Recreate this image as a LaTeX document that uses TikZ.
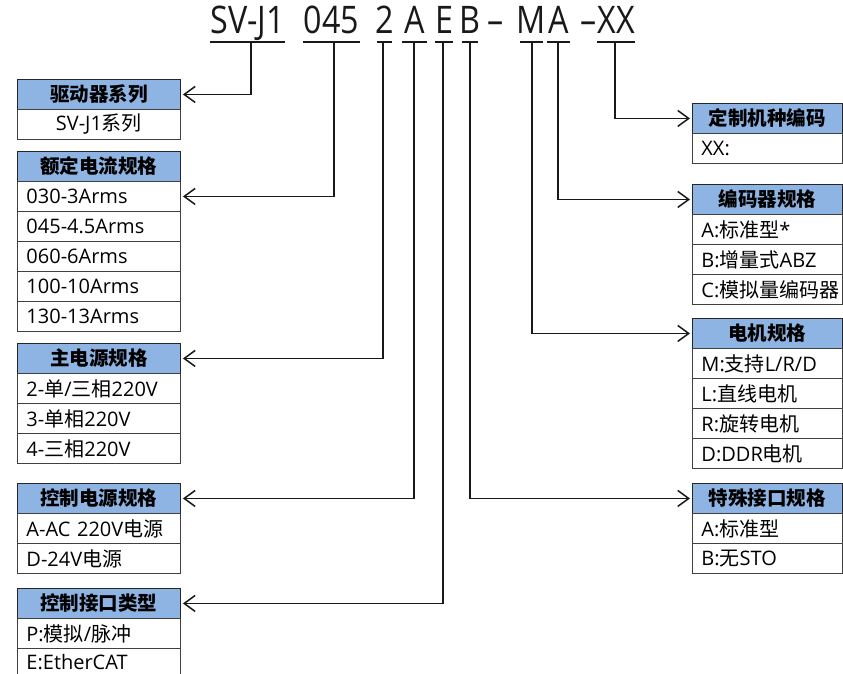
\documentclass[tikz,border=0pt]{standalone}
\usepackage{fontspec}
\setmainfont{Noto Sans CJK SC}
\newfontfamily\lat{Open Sans}
\usetikzlibrary{arrows.meta}
\definecolor{hdrblue}{RGB}{142,180,227}
\definecolor{linec}{RGB}{25,25,25}
\begin{document}
\begin{tikzpicture}[x=1pt,y=-1pt,
  lhdr/.style={draw=black!85, fill=hdrblue, line width=0.9pt, minimum height=30pt, inner xsep=0pt, inner ysep=0pt, text width=163pt, align=center, font=\bfseries\fontsize{19.5}{21}\selectfont, anchor=north west},
  lrow/.style={draw=black!75, fill=white, line width=0.9pt, minimum height=30pt, inner xsep=9pt, inner ysep=0pt, text width=145pt, align=left, font=\fontsize{20}{22}\selectfont, anchor=north west},
  rhdr/.style={lhdr, text width=150pt},
  rrow/.style={lrow, text width=132pt},
  code/.style={font=\lat\fontsize{38}{42}\selectfont, anchor=base, inner sep=0pt, text=black!90},
  uline/.style={line width=1.8pt, draw=linec},
  conn/.style={line width=1.5pt, draw=linec, shorten >=2pt, -{Straight Barb[length=11pt,width=16pt,line width=1.5pt]}}
]
\useasboundingbox (0,0) rectangle (843,674);

% ---- code line ----
\node[code] (c1) at (247.5,34) {\scalebox{0.85}[1]{SV-J1}};
\node[code] (c2) at (331.5,34) {\scalebox{0.85}[1]{045}};
\node[code] (c3) at (384.5,34) {\scalebox{0.85}[1]{2}};
\node[code] (c4) at (414.5,34) {\scalebox{0.85}[1]{A}};
\node[code] (c5) at (444,34) {\scalebox{0.85}[1]{E}};
\node[code] (c6) at (470,34) {\scalebox{0.85}[1]{B}};
\node[code] (d1) at (496,34) {\scalebox{0.85}[1]{–}};
\node[code] (c7) at (531.5,34) {\scalebox{0.85}[1]{M}};
\node[code] (c8) at (558.5,34) {\scalebox{0.85}[1]{A}};
\node[code] (d2) at (589,34) {\scalebox{0.85}[1]{–}};
\node[code] (c9) at (616,34) {\scalebox{0.85}[1]{XX}};

\draw[uline] (210,42) -- (285,42);
\draw[uline] (303,42) -- (360,42);
\draw[uline] (377,42) -- (392,42);
\draw[uline] (402,42) -- (427,42);
\draw[uline] (435,42) -- (453,42);
\draw[uline] (462,42) -- (478,42);
\draw[uline] (520,42) -- (543,42);
\draw[uline] (547,42) -- (570,42);
\draw[uline] (597,42) -- (635,42);

\coordinate (u1) at (251,42);
\coordinate (u2) at (334,42);
\coordinate (u3) at (383,42);
\coordinate (u4) at (414,42);
\coordinate (u5) at (443,42);
\coordinate (u6) at (470,42);
\coordinate (u7) at (532,42);
\coordinate (u8) at (558,42);
\coordinate (u9) at (615,42);

% ---- left boxes ----
\node[lhdr] (b1h) at (17,79) {驱动器系列};
\node[lrow, align=center] (b1r1) at (17,109) {{\lat SV-J1}系列};

\node[lhdr] (b2h) at (17,151) {额定电流规格};
\node[lrow] (b2r1) at (17,181) {\lat 030-3Arms};
\node[lrow] (b2r2) at (17,211) {\lat 045-4.5Arms};
\node[lrow] (b2r3) at (17,241) {\lat 060-6Arms};
\node[lrow] (b2r4) at (17,271) {\lat 100-10Arms};
\node[lrow] (b2r5) at (17,301) {\lat 130-13Arms};

\node[lhdr] (b3h) at (17,343) {主电源规格};
\node[lrow] (b3r1) at (17,373) {{\lat 2-}单{\lat /}三相{\lat 220V}};
\node[lrow] (b3r2) at (17,403) {{\lat 3-}单相{\lat 220V}};
\node[lrow] (b3r3) at (17,433) {{\lat 4-}三相{\lat 220V}};

\node[lhdr] (b4h) at (17,483) {控制电源规格};
\node[lrow] (b4r1) at (17,513) {{\lat A-AC 220V}电源};
\node[lrow] (b4r2) at (17,543) {{\lat D-24V}电源};

\node[lhdr] (b5h) at (17,588) {控制接口类型};
\node[lrow] (b5r1) at (17,618) {{\lat P:}模拟{\lat /}脉冲};
\node[lrow, minimum height=27pt] (b5r2) at (17,648) {\lat E:EtherCAT};

% ---- right boxes ----
\node[rhdr] (rAh) at (692,103) {定制机种编码};
\node[rrow] (rAr1) at (692,133) {\lat XX:};

\node[rhdr] (rBh) at (692,184) {编码器规格};
\node[rrow] (rBr1) at (692,214) {{\lat A:}标准型{\lat *}};
\node[rrow] (rBr2) at (692,244) {{\lat B:}增量式{\lat ABZ}};
\node[rrow] (rBr3) at (692,274) {{\lat C:}模拟量编码器};

\node[rhdr] (rCh) at (692,318) {电机规格};
\node[rrow] (rCr1) at (692,348) {{\lat M:}支持{\lat L/R/D}};
\node[rrow] (rCr2) at (692,378) {{\lat L:}直线电机};
\node[rrow] (rCr3) at (692,408) {{\lat R:}旋转电机};
\node[rrow] (rCr4) at (692,438) {{\lat D:DDR}电机};

\node[rhdr] (rDh) at (692,483) {特殊接口规格};
\node[rrow] (rDr1) at (692,513) {{\lat A:}标准型};
\node[rrow] (rDr2) at (692,543) {{\lat B:}无{\lat STO}};

% ---- connectors ----
\draw[conn] (u1) |- (b1h.east);
\draw[conn] (u2) |- (b2r1.east);
\draw[conn] (u3) |- (b3h.east);
\draw[conn] (u4) |- (b4h.east);
\draw[conn] (u5) |- (b5h.east);
\draw[conn] (u6) |- (rDh.west);
\draw[conn] (u7) |- (rCh.west);
\draw[conn] (u8) |- (rBh.west);
\draw[conn] (u9) |- (rAh.west);
\end{tikzpicture}
\end{document}
